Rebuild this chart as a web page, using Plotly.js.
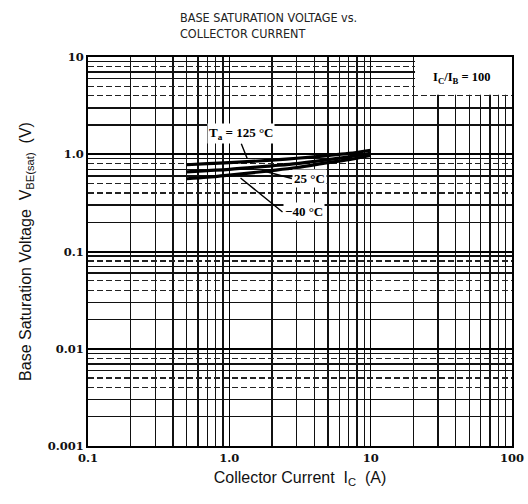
<!DOCTYPE html>
<html>
<head>
<meta charset="utf-8">
<script src="https://cdn.plot.ly/plotly-3.0.1.min.js"></script>
<style>html,body{margin:0;padding:0;background:#fff;}#chart{width:528px;height:504px;}</style>
</head>
<body>
<div id="chart"></div>
<script>
// ---- data ----
const currentA = [0.5, 0.7, 1, 2, 3, 5, 7, 10];
const vbeMinus40 = [0.56, 0.58, 0.61, 0.68, 0.73, 0.82, 0.88, 0.97];
const vbe25 = [0.66, 0.68, 0.70, 0.76, 0.80, 0.88, 0.94, 1.02];
const vbe125 = [0.78, 0.80, 0.82, 0.87, 0.91, 0.97, 1.02, 1.10];
const xTickVals = [0.1, 1, 10, 100];
const xTickText = ['0.1', '1.0', '10', '100'];
const yTickVals = [0.001, 0.01, 0.1, 1, 10];
const yTickText = ['0.001', '0.01', '0.1', '1.0', '10'];
const seriesNames = ['Ta = -40 °C', 'Ta = 25 °C', 'Ta = 125 °C'];

// grid helpers (axis gridlines only)
function minorVals(d0, d1, mults) {
  const out = [];
  for (let e = d0; e < d1; e++) mults.forEach(m => out.push(m * Math.pow(10, e)));
  return out;
}
const xMinorSolid = minorVals(-1, 2, [2, 3, 4, 5, 6, 7, 8, 9]);
const yMinorSolid = minorVals(-3, 1, [2, 3, 6, 7, 9]);
const yMinorDash = minorVals(-3, 1, [4, 5, 8]);

const tickFont = {family: 'DejaVu Serif, Liberation Serif, serif', size: 11.5, color: '#111', weight: 'bold'};
const labelFont = {family: 'Liberation Serif, serif', size: 13, color: '#000', weight: 'bold'};

const traces = [vbeMinus40, vbe25, vbe125].map((v, i) => ({
  x: currentA, y: v, name: seriesNames[i], type: 'scatter', mode: 'lines',
  line: {color: '#000', width: 3.2, shape: 'spline'}, showlegend: false, hoverinfo: 'skip'
}));
// invisible trace to activate overlay axes
traces.push({x: [0.1], y: [0.001], xaxis: 'x2', yaxis: 'y2', mode: 'markers', marker: {opacity: 0}, showlegend: false, hoverinfo: 'skip'});

const layout = {
  width: 528, height: 504,
  margin: {l: 88, r: 16, t: 57, b: 58},
  paper_bgcolor: '#fff', plot_bgcolor: '#fff',
  showlegend: false,
  xaxis: {
    type: 'log', range: [-1, 2], tickmode: 'array', tickvals: xTickVals, ticktext: xTickText,
    tickfont: tickFont, ticks: '', showline: true, linecolor: '#000', linewidth: 2, mirror: true,
    showgrid: true, gridcolor: '#000', gridwidth: 1.6, zeroline: false,
    minor: {tickmode: 'array', tickvals: xMinorSolid, showgrid: true, gridcolor: '#111', gridwidth: 1.4, ticks: ''},
    title: {text: 'Collector Current  I<sub>C</sub>  (A)', font: {family: 'Liberation Sans, Arial, sans-serif', size: 16, color: '#111'}, standoff: 8},
    automargin: false
  },
  yaxis: {
    type: 'log', range: [-3, 1], tickmode: 'array', tickvals: yTickVals, ticktext: yTickText,
    tickfont: tickFont, ticks: '', showline: true, linecolor: '#000', linewidth: 2, mirror: true,
    showgrid: true, gridcolor: '#000', gridwidth: 2, zeroline: false,
    minor: {tickmode: 'array', tickvals: yMinorSolid, showgrid: true, gridcolor: '#111', gridwidth: 1.4, ticks: ''},
    title: {text: 'Base Saturation Voltage  V<sub>BE(sat)</sub>  (V)', font: {family: 'Liberation Sans, Arial, sans-serif', size: 16, color: '#111'}, standoff: 12},
    automargin: false
  },
  xaxis2: {type: 'log', range: [-1, 2], overlaying: 'x', showticklabels: false, ticks: '', showgrid: false, zeroline: false, showline: false},
  yaxis2: {type: 'log', range: [-3, 1], overlaying: 'y', tickmode: 'array', tickvals: yMinorDash, showticklabels: false, ticks: '',
    showgrid: true, gridcolor: '#222', gridwidth: 1.3, griddash: '6px,3px', zeroline: false, showline: false},
  shapes: [
    {type: 'rect', xref: 'x', yref: 'y', x0: 20.6, x1: 100, y0: 4.1, y1: 10, fillcolor: '#fff', line: {width: 0}, layer: 'between'}
  ],
  annotations: [
    {xref: 'paper', yref: 'paper', x: 0.212, y: 1.125, xanchor: 'left', yanchor: 'top', align: 'left', showarrow: false,
      text: 'BASE SATURATION VOLTAGE vs.<br>COLLECTOR CURRENT',
      font: {family: 'Liberation Sans Narrow, Arial Narrow, DejaVu Sans Condensed, sans-serif', size: 12.5, color: '#222'}},
    {xref: 'x', yref: 'y', x: Math.log10(1.34), y: Math.log10(0.9), ax: -6, ay: -15, text: 'T<sub>a</sub> = 125 °C', showarrow: true, arrowhead: 0, arrowwidth: 1.4, arrowcolor: '#000',
      font: labelFont, bgcolor: '#fff', yanchor: 'bottom'},
    {xref: 'x', yref: 'y', x: Math.log10(1.7), y: Math.log10(0.68), ax: 30, ay: 8, text: '25 °C', showarrow: true, arrowhead: 0, arrowwidth: 1.4, arrowcolor: '#000',
      font: labelFont, bgcolor: '#fff', xanchor: 'left'},
    {xref: 'x', yref: 'y', x: Math.log10(1.2), y: Math.log10(0.57), ax: 42, ay: 34, text: '−40 °C', showarrow: true, arrowhead: 0, arrowwidth: 1.4, arrowcolor: '#000',
      font: labelFont, bgcolor: '#fff', xanchor: 'left'},
    {xref: 'x', yref: 'y', x: Math.log10(44), y: Math.log10(6.1), text: 'I<sub>C</sub>/I<sub>B</sub> = 100', showarrow: false,
      font: {family: 'Liberation Serif, serif', size: 12.5, color: '#000', weight: 'bold'}}
  ]
};

Plotly.newPlot('chart', traces, layout, {staticPlot: true, displayModeBar: false});
</script>
</body>
</html>
